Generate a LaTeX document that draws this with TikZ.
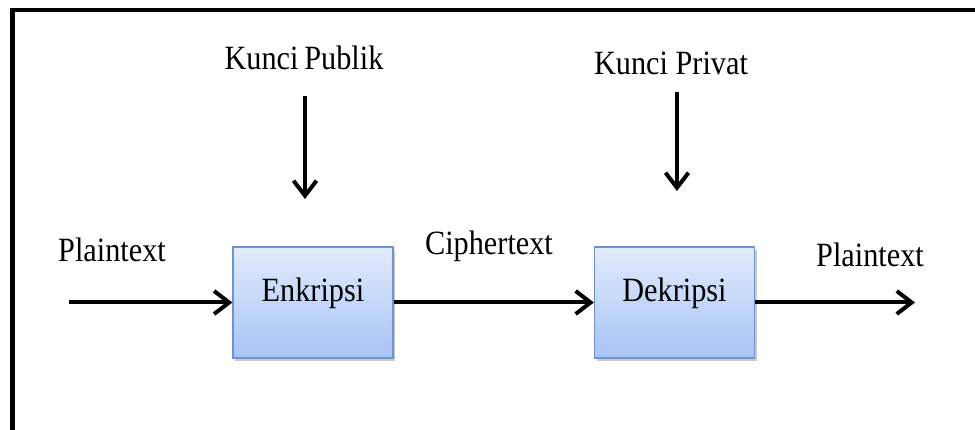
\documentclass[tikz,border=0pt]{standalone}
\usepackage{fontspec}
\setmainfont{Liberation Serif}
\usetikzlibrary{arrows.meta,shadows}

\definecolor{boxtop}{HTML}{E2EBFC}
\definecolor{boxbottom}{HTML}{A7C3F6}
\definecolor{boxedge}{HTML}{6E93CF}

% slightly condensed, tall serif lettering
\newcommand{\narrowtext}[1]{\scalebox{0.89}[1]{#1}}

\tikzset{
  procbox/.style={draw=boxedge, line width=1.2pt, top color=boxtop, bottom color=boxbottom,
    minimum width=160pt, minimum height=111pt, inner sep=0pt,
    drop shadow={shadow xshift=2pt, shadow yshift=-3pt, opacity=0.35, fill=black!60},
    font=\fontsize{34}{40}\selectfont, text depth=0pt, anchor=center},
  lbl/.style={font=\fontsize{34}{40}\selectfont, inner sep=0pt, anchor=center},
  flow/.style={line width=4pt, -{Straight Barb[length=15pt, width=23pt, line width=4pt]}}
}

\begin{document}
\begin{tikzpicture}[x=1pt, y=-1pt]
  \useasboundingbox (0,0) rectangle (975,430);

  % outer frame, running off the right and bottom edges
  \draw[line width=4.5pt, line join=miter] (980,10) -- (12.5,10) -- (12.5,435);

  % processing blocks
  \node[procbox] (enc) at (313,302.5) {\raisebox{26pt}{\narrowtext{Enkripsi}}};
  \node[procbox] (dec) at (674.5,302.5) {\raisebox{26pt}{\narrowtext{Dekripsi}}};

  % labels
  \node[lbl] (pub)   at (304,58)  {\narrowtext{Kunci\kern-2pt\ Publik}};
  \node[lbl] (priv)  at (671,63)  {\narrowtext{Kunci Privat}};
  \node[lbl] (pin)   at (112,250) {\narrowtext{Plaintext}};
  \node[lbl] (ctext) at (489,246) {\narrowtext{Ciphertext}};
  \node[lbl] (pout)  at (870,255) {\narrowtext{Plaintext}};

  % free ends of the connectors
  \coordinate (inStart)   at (69,302.5);
  \coordinate (outEnd)    at (915,302.5);
  \coordinate (pubStart)  at (305,96);
  \coordinate (pubEnd)    at (305,199);
  \coordinate (privStart) at (677,92);
  \coordinate (privEnd)   at (677,191);

  % data flow
  \draw[flow] (inStart) -- (enc.west);
  \draw[flow] (enc.east) -- (dec.west);
  \draw[flow] (dec.east) -- (outEnd);

  % keys
  \draw[flow] (pubStart) -- (pubEnd);
  \draw[flow] (privStart) -- (privEnd);
\end{tikzpicture}
\end{document}
